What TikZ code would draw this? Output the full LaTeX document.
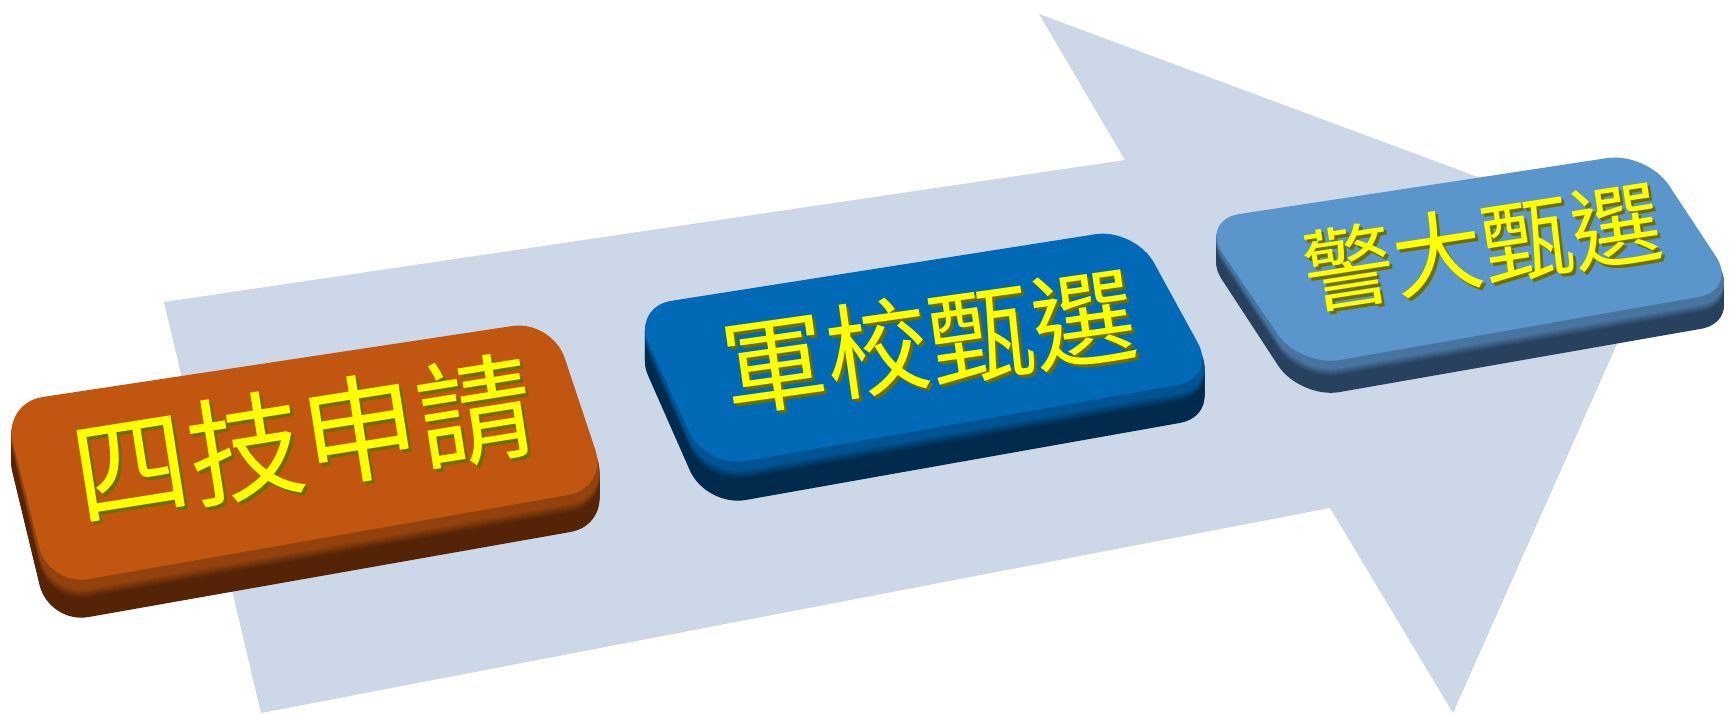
\documentclass[tikz,border=0pt]{standalone}
\usepackage{fontspec}
\newfontfamily\cjk{Noto Sans CJK TC}
\definecolor{flowgray}{HTML}{CCD7E8}
\definecolor{orangetop}{HTML}{C0560F}
\definecolor{orangebevel}{HTML}{93420D}
\definecolor{orangeside}{HTML}{552407}
\definecolor{bluetop}{HTML}{006AB6}
\definecolor{bluebevel}{HTML}{005493}
\definecolor{blueside}{HTML}{002B4D}
\definecolor{skytop}{HTML}{5A96CB}
\definecolor{skybevel}{HTML}{4874A0}
\definecolor{skyside}{HTML}{27415E}
\definecolor{capyellow}{HTML}{FFFF00}
\definecolor{capolive}{HTML}{6E6E00}

\begin{document}
\begin{tikzpicture}[x=0.5pt,y=-0.5pt,
 keycap/.style={rounded corners=20pt},
 caption/.style={inner sep=0pt},
 glow/.style={text=capyellow},
 relief/.style={text=capolive}]
 \useasboundingbox (0,0) rectangle (1729,714);
 \clip (0,0) rectangle (1729,714);
 % big arrow behind the keys
 \fill[flowgray] (164,302) -- (1125,160) -- (1039,14) -- (1661,245)
 -- (1453,713) -- (1330,508) -- (261,713) -- cycle;
 % first key
 \foreach \d in {28,27,...,0}{
 \pgfmathtruncatemacro\p{min(100,\d*100/9)}
 \fill[keycap,fill=orangeside!\p!orangebevel,yshift=-\d*0.5pt] (3,405) -- (552,322) -- (610,497) -- (49,596) -- cycle;
 }
 \fill[keycap,orangetop] (3,403) -- (552,320) -- (608,488) -- (49,586) -- cycle;
 % second key
 \foreach \d in {30,29,...,0}{
 \pgfmathtruncatemacro\p{min(100,\d*100/9)}
 \fill[keycap,fill=blueside!\p!bluebevel,yshift=-\d*0.5pt] (632,309) -- (1135,230) -- (1219,386) -- (706,477) -- cycle;
 }
 \fill[keycap,bluetop] (632,307) -- (1135,228) -- (1217,378) -- (706,468) -- cycle;
 % third key
 \foreach \d in {24,23,...,0}{
 \pgfmathtruncatemacro\p{min(100,\d*100/8)}
 \fill[keycap,fill=skyside!\p!skybevel,yshift=-\d*0.5pt] (1200,222) -- (1647,154) -- (1740,298) -- (1300,375) -- cycle;
 }
 \fill[keycap,skytop] (1200,220) -- (1647,152) -- (1738,290) -- (1300,367) -- cycle;
 % labels
 \node[caption,relief,rotate=9,font=\cjk\fontsize{58pt}{62pt}\selectfont] (apply shadow) at (306,442) {四技申請};
 \node[caption,glow,rotate=9,font=\cjk\fontsize{58pt}{62pt}\selectfont] (apply) at (303,439) {四技申請};
 \node[caption,relief,rotate=8,font=\cjk\fontsize{52pt}{56pt}\selectfont] (army shadow) at (932,344) {軍校甄選};
 \node[caption,glow,rotate=8,font=\cjk\fontsize{52pt}{56pt}\selectfont] (army) at (929,341) {軍校甄選};
 \node[caption,relief,rotate=8.7,font=\cjk\fontsize{45pt}{49pt}\selectfont] (police shadow) at (1485,249) {警大甄選};
 \node[caption,glow,rotate=8.7,font=\cjk\fontsize{45pt}{49pt}\selectfont] (police) at (1482,246) {警大甄選};
\end{tikzpicture}
\end{document}
